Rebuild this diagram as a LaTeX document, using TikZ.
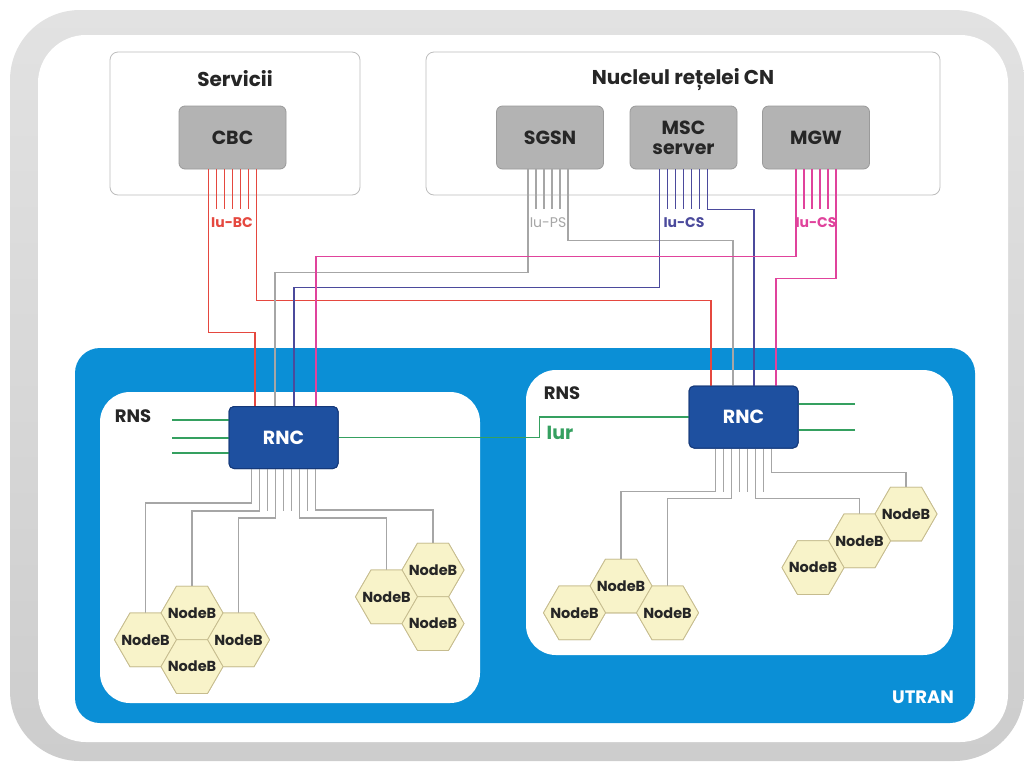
\documentclass[tikz,border=0pt]{standalone}
\usepackage{fontspec}
\setmainfont{Poppins}
\usetikzlibrary{shapes.geometric,calc}
\definecolor{bandlight}{HTML}{E2E2E2}
\definecolor{banddark}{HTML}{CDCDCD}
\definecolor{framegray}{HTML}{BDBDBD}
\definecolor{boxfill}{HTML}{B3B3B3}
\definecolor{boxedge}{HTML}{9A9A9A}
\definecolor{utran}{HTML}{0B8FD6}
\definecolor{rncfill}{HTML}{1E50A0}
\definecolor{rncedge}{HTML}{15397A}
\definecolor{bcred}{HTML}{E5483F}
\definecolor{psgray}{HTML}{A6A6A6}
\definecolor{csblue}{HTML}{4B4A9C}
\definecolor{csmag}{HTML}{E0439C}
\definecolor{iurgreen}{HTML}{35A060}
\definecolor{hexfill}{HTML}{F8F3C9}
\definecolor{hexedge}{HTML}{C6BC8E}
\definecolor{inkdark}{HTML}{262626}
\newcommand{\cellname}{\makebox[0pt]{NodeB}}
\begin{document}
\begin{tikzpicture}[x=1pt,y=-1pt,
  panel/.style={draw=framegray, line width=0.8pt, fill=white, rounded corners=8pt},
  cnbox/.style={draw=boxedge, line width=0.8pt, fill=boxfill, rounded corners=6pt,
    minimum width=107pt, minimum height=63pt, inner sep=0pt, align=center,
    font=\bfseries\fontsize{19}{20}\selectfont, text=inkdark},
  rncbox/.style={draw=rncedge, line width=1pt, fill=rncfill, rounded corners=5pt,
    minimum width=109pt, minimum height=62pt, inner sep=0pt,
    font=\bfseries\fontsize{19}{21}\selectfont, text=white},
  hexcell/.style={regular polygon, regular polygon sides=6,
    minimum size=62pt, inner sep=0pt,
    draw=hexedge, line width=0.8pt, fill=hexfill,
    font=\bfseries\fontsize{14.5}{16}\selectfont, text=inkdark},
  title/.style={font=\bfseries\fontsize{20}{22}\selectfont, text=inkdark, inner sep=0pt},
  ifacelbl/.style={font=\bfseries\fontsize{14}{16}\selectfont, inner sep=0pt},
  wire/.style={line width=1.1pt},
]
\useasboundingbox (0,0) rectangle (1024,761);

% outer frame: grey band with a white panel inside
\shade[rounded corners=70pt, top color=bandlight, bottom color=banddark] (10,10) rectangle (1024,761);
\fill[white, rounded corners=48pt] (38,35) rectangle (1008,742);

% upper panels
\node[panel, minimum width=250pt, minimum height=143pt] (svc) at (235,123.5) {};
\node[panel, minimum width=514pt, minimum height=143pt] (cn) at (683,123.5) {};
\node[title] (svct) at (235,79) {Servicii};
\node[title] (cnt) at (683,80) {Nucleul rețelei CN};

% UTRAN area and the two RNS panels
\fill[utran, rounded corners=25pt] (75,348) rectangle (975,723);
\fill[white, rounded corners=30pt] (100,392) rectangle (480,703);
\fill[white, rounded corners=30pt] (526,370) rectangle (953,655);
\node[title, text=inkdark, font=\bfseries\fontsize{18}{20}\selectfont] (rnsl) at (133,416) {RNS};
\node[title, text=inkdark, font=\bfseries\fontsize{18}{20}\selectfont] (rnsr) at (562,393) {RNS};
\node[title, text=white, font=\bfseries\fontsize{18}{20}\selectfont] (utr) at (923,697) {UTRAN};

% core network and service elements
\node[cnbox] (cbc) at (232.5,137.5) {CBC};
\node[cnbox] (sgsn) at (550,137.5) {SGSN};
\node[cnbox] (msc) at (683.5,137.5) {MSC\\server};
\node[cnbox] (mgw) at (816,137.5) {MGW};

% radio network controllers
\node[rncbox] (lrnc) at (283.5,437.5) {RNC};
\node[rncbox] (rrnc) at (743.5,417) {RNC};

% NodeB cells
\node[hexcell] (ha1) at (192,613) {\cellname};
\node[hexcell] (ha2) at (145.5,639.8) {\cellname};
\node[hexcell] (ha3) at (238.5,639.8) {\cellname};
\node[hexcell] (ha4) at (192,666.6) {\cellname};
\node[hexcell] (hb1) at (433,570) {\cellname};
\node[hexcell] (hb2) at (386.5,596.8) {\cellname};
\node[hexcell] (hb3) at (433,623.6) {\cellname};
\node[hexcell] (hc1) at (621,586) {\cellname};
\node[hexcell] (hc2) at (574.5,612.8) {\cellname};
\node[hexcell] (hc3) at (667.5,612.8) {\cellname};
\node[hexcell] (hd1) at (906,514) {\cellname};
\node[hexcell] (hd2) at (859.5,540.8) {\cellname};
\node[hexcell] (hd3) at (813,567.6) {\cellname};

% Iu-BC
\foreach \d in {-16,-8,0,8,16}
  \draw[wire, bcred] ([xshift=\d pt]cbc.south) -- ++(0,40);
\draw[wire, bcred] ([xshift=-24pt]cbc.south) -- ++(0,163) -| ([xshift=-28.5pt]lrnc.north);
\draw[wire, bcred] ([xshift=24pt]cbc.south) -- ++(0,131) -| ([xshift=-32.5pt]rrnc.north);
% Iu-PS
\foreach \d in {-14,-6,2,10}
  \draw[wire, psgray] ([xshift=\d pt]sgsn.south) -- ++(0,40);
\draw[wire, psgray] ([xshift=-22pt]sgsn.south) -- ++(0,103) -| ([xshift=-8.5pt]lrnc.north);
\draw[wire, psgray] ([xshift=18pt]sgsn.south) -- ++(0,71) -| ([xshift=-10.5pt]rrnc.north);
% Iu-CS from the MSC server
\foreach \d in {-16,-8,0,8,16}
  \draw[wire, csblue] ([xshift=\d pt]msc.south) -- ++(0,40);
\draw[wire, csblue] ([xshift=-24pt]msc.south) -- ++(0,118) -| ([xshift=10.5pt]lrnc.north);
\draw[wire, csblue] ([xshift=24pt]msc.south) -- ++(0,40) -| ([xshift=10.5pt]rrnc.north);
% Iu-CS from the MGW
\foreach \d in {-12,-4,4,12}
  \draw[wire, csmag] ([xshift=\d pt]mgw.south) -- ++(0,40);
\draw[wire, csmag] ([xshift=-20pt]mgw.south) -- ++(0,87) -| ([xshift=32.5pt]lrnc.north);
\draw[wire, csmag] ([xshift=20pt]mgw.south) -- ++(0,109) -| ([xshift=32.5pt]rrnc.north);

\node[ifacelbl, text=bcred] (lbc) at (232,223) {Iu-BC};
\node[ifacelbl, text=psgray, font=\fontsize{14}{16}\selectfont] (lps) at (548,223) {Iu-PS};
\node[ifacelbl, text=csblue] (lcs1) at (684,223) {Iu-CS};
\node[ifacelbl, text=csmag] (lcs2) at (816,223) {Iu-CS};

% Iub links, left RNS
\foreach \d in {-16,0,8,24}
  \draw[wire, psgray] ([xshift=\d pt]lrnc.south) -- ++(0,42);
\draw[wire, psgray] ([xshift=-32pt]lrnc.south) -- ++(0,34) -| (ha2.north);
\draw[wire, psgray] ([xshift=-24pt]lrnc.south) -- ++(0,42) -| (ha1.north);
\draw[wire, psgray] ([xshift=-8pt]lrnc.south) -- ++(0,49) -| (ha3.north);
\draw[wire, psgray] ([xshift=16pt]lrnc.south) -- ++(0,49) -| (hb2.north);
\draw[wire, psgray] ([xshift=32pt]lrnc.south) -- ++(0,41) -| (hb1.north);

% Iub links, right RNS
\foreach \d in {-20,-4,4,20}
  \draw[wire, psgray] ([xshift=\d pt]rrnc.south) -- ++(0,43);
\draw[wire, psgray] ([xshift=-28pt]rrnc.south) -- ++(0,43) -| (hc1.north);
\draw[wire, psgray] ([xshift=-12pt]rrnc.south) -- ++(0,50) -| (hc3.north);
\draw[wire, psgray] ([xshift=12pt]rrnc.south) -- ++(0,50) -| (hd2.north);
\draw[wire, psgray] ([xshift=28pt]rrnc.south) -- ++(0,24) -| (hd1.north);

% Iur and the other inter-RNC links
\coordinate (gl1) at (172,420);
\coordinate (gl2) at (172,438);
\coordinate (gl3) at (172,453);
\coordinate (gr1) at (855,404);
\coordinate (gr2) at (855,430);
\foreach \c in {gl1,gl2,gl3}
  \draw[wire, iurgreen] (\c) -- (\c -| lrnc.west);
\foreach \c in {gr1,gr2}
  \draw[wire, iurgreen] (\c) -- (\c -| rrnc.east);
\draw[wire, iurgreen] (lrnc.east) -- ++(201,0) |- (rrnc.west);
\node[title, text=iurgreen, font=\bfseries\fontsize{19}{21}\selectfont] (iur) at (560,433) {Iur};

% redraw controllers and cells above the wires
\node[rncbox] at (lrnc) {RNC};
\node[rncbox] at (rrnc) {RNC};
\foreach \h in {ha1,ha2,ha3,ha4,hb1,hb2,hb3,hc1,hc2,hc3,hd1,hd2,hd3}
  \node[hexcell] at (\h) {\cellname};
\end{tikzpicture}
\end{document}
